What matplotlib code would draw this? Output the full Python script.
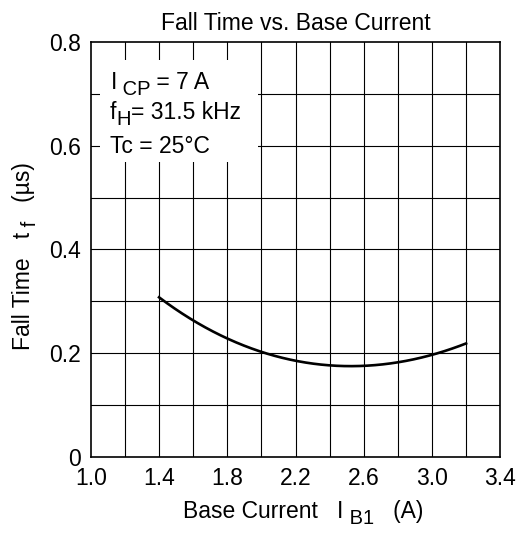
import numpy as np
import matplotlib
matplotlib.use("Agg")
import matplotlib.pyplot as plt
from matplotlib.patches import Rectangle

plt.rcParams["font.family"] = ["Liberation Sans", "DejaVu Sans"]

# curve
base_current = [1.4, 1.6, 1.8, 2.0, 2.2, 2.4, 2.5, 2.6, 2.8, 3.0, 3.2]
fall_time = [0.307, 0.265, 0.227, 0.202, 0.185, 0.177, 0.175, 0.176, 0.182, 0.196, 0.219]

x_ticks = [1.0, 1.4, 1.8, 2.2, 2.6, 3.0, 3.4]
y_ticks = [0, 0.2, 0.4, 0.6, 0.8]
y_ticklabels = ["0", "0.2", "0.4", "0.6", "0.8"]

FS = 16.5
SUB = 0.88   # subscripts are nearly full size in the original
DROP = 3.5   # points


def chained(ax, first, parts, rot=0, zorder=4):
    """Draw parts after an already placed text; parts are (text, is_sub)."""
    prev, low = first, False
    for txt, is_sub in parts:
        d = 0.0
        if is_sub and not low:
            d = -DROP
        elif low and not is_sub:
            d = DROP
        low = is_sub
        fs = FS * SUB if is_sub else FS
        if rot == 0:
            prev = ax.annotate(txt, xy=(1, 0), xycoords=prev, xytext=(0, d),
                               textcoords="offset points", ha="left", va="bottom",
                               fontsize=fs, zorder=zorder)
        else:
            prev = ax.annotate(txt, xy=(1, 1), xycoords=prev, xytext=(-d, 0),
                               textcoords="offset points", ha="right", va="bottom",
                               fontsize=fs, rotation=90, zorder=zorder)
    return prev


fig = plt.figure(figsize=(5.31, 5.33), dpi=100)
ax = fig.add_axes([0.171, 0.143, 0.771, 0.778])

# grid: 0.2 A in x, 0.1 us in y
for gx in np.arange(1.2, 3.3, 0.2):
    ax.axvline(gx, color="black", lw=0.8, zorder=1)
for gy in np.arange(0.1, 0.75, 0.1):
    ax.axhline(gy, color="black", lw=0.8, zorder=1)

# white box behind the conditions text
ax.add_patch(Rectangle((1.053, 0.569), 0.927, 0.196, facecolor="white",
                       edgecolor="none", zorder=2))

# smooth curve through read points
xs = np.linspace(base_current[0], base_current[-1], 200)
coef = np.polyfit(base_current, fall_time, 4)
ax.plot(xs, np.polyval(coef, xs), color="black", lw=1.9, zorder=3)

t1 = ax.text(1.115, 0.709, "I", fontsize=FS, va="baseline", zorder=4)
chained(ax, t1, [(" CP", True), (" = 7 A", False)])
t2 = ax.text(1.11, 0.652, "f", fontsize=FS, va="baseline", zorder=4)
chained(ax, t2, [("H", True), ("= 31.5 kHz", False)])
ax.text(1.11, 0.586, "Tc = 25°C", fontsize=FS, va="baseline", zorder=4)

ax.set_xlim(1.0, 3.4)
ax.set_ylim(0, 0.8)
ax.set_xticks(x_ticks)
ax.set_xticklabels([f"{v:.1f}" for v in x_ticks])
ax.set_yticks(y_ticks)
ax.set_yticklabels(y_ticklabels)
ax.tick_params(length=0, labelsize=FS, pad=7)
for s in ax.spines.values():
    s.set_linewidth(1.2)

ax.set_title("Fall Time vs. Base Current", fontsize=FS, pad=9)

# axis labels with near full-size subscripts
xl = fig.text(0.345, 0.019, "Base Current   I", fontsize=FS, va="bottom")
chained(ax, xl, [(" B1", True), ("   (A)", False)])
yl = fig.text(0.022, 0.343, "Fall Time   t", fontsize=FS, rotation=90,
              ha="left", va="bottom")
chained(ax, yl, [(" f", True), ("   (µs)", False)], rot=90)

fig.savefig("out.png", dpi=100)
